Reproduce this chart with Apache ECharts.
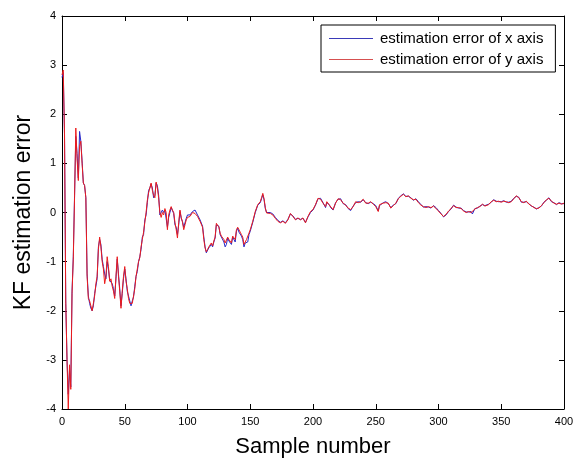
<!DOCTYPE html>
<html>
<head>
<meta charset="utf-8">
<script src="https://cdn.jsdelivr.net/npm/echarts@6/dist/echarts.min.js"></script>
<style>
html,body{margin:0;padding:0;background:#fff;}
#chart{width:581px;height:463px;}
</style>
</head>
<body>
<div id="chart"></div>
<script>
// Sample index
var samples = [0,1,2,3,4,5,6,7,8,9,10,11,12,13,14,15,16,17,18,19,20,21,22,23,24,25,26,27,28,29,30,31,32,33,34,35,36,37,38,39,40,41,42,43,44,45,46,47,48,49,50,51,52,53,54,55,56,57,58,59,60,61,62,63,64,65,66,67,68,69,70,71,72,73,74,75,76,77,78,79,80,81,82,83,84,85,86,87,88,89,90,91,92,93,94,95,96,97,98,99,100,
102,104,106,108,110,112,113,114,115,116,117,118,119,120,121,122,123,124,125,126,127,128,129,130,131,132,133,134,135,136,137,138,139,140,141,142,143,144,145,146,147,148,149,150,
152,154,156,158,159,160,161,162,163,164,166,168,170,172,174,176,178,180,182,184,186,188,190,192,194,196,198,200,202,204,206,208,210,211,213,214,216,218,220,222,224,226,228,230,232,234,236,238,240,242,244,246,248,250,252,253,256,258,260,262,264,266,268,270,272,274,276,278,280,282,284,286,288,290,292,294,296,298,300,302,304,306,308,310,312,314,316,318,320,322,324,326,327,329,331,333,335,337,338,340,342,344,346,348,350,352,354,356,358,360,362,364,366,368,370,372,374,376,378,380,382,384,386,388,390,392,394,396,398,400];

// Estimation error of x axis (blue)
var errX = [2.75,2.85,1.6,-1.85,-3.0,-3.7,-3.2,-3.55,-1.6,-0.9,0.35,1.55,1.2,0.7,1.65,1.45,1.05,0.6,0.55,0.3,-1.25,-1.7,-1.85,-1.95,-2.0,-1.9,-1.65,-1.5,-1.35,-0.7,-0.55,-0.65,-0.95,-1.1,-1.25,-1.35,-1.0,-1.15,-1.38,-1.4,-1.45,-1.55,-1.7,-1.35,-0.95,-1.25,-1.55,-1.9,-1.65,-1.35,-1.15,-1.35,-1.6,-1.7,-1.8,-1.9,-1.8,-1.72,-1.5,-1.3,-1.2,-1.0,-0.9,-0.75,-0.5,-0.45,-0.15,-0.05,0.2,0.45,0.5,0.58,0.5,0.3,0.35,0.6,0.55,0.35,-0.05,-0.08,0.05,0.0,0.05,0.02,-0.3,-0.1,0.0,0.1,0.08,-0.02,-0.25,-0.3,-0.45,-0.25,0.02,-0.12,-0.18,-0.3,-0.28,-0.12,-0.05,
-0.05,0.02,0.05,-0.05,-0.15,-0.28,-0.5,-0.7,-0.82,-0.85,-0.72,-0.75,-0.65,-0.7,-0.6,-0.52,-0.25,-0.22,-0.28,-0.45,-0.5,-0.52,-0.6,-0.7,-0.65,-0.52,-0.58,-0.55,-0.65,-0.5,-0.52,-0.6,-0.38,-0.32,-0.4,-0.42,-0.48,-0.55,-0.7,-0.62,-0.58,-0.6,-0.45,-0.38,
-0.2,0.0,0.15,0.2,0.28,0.36,0.26,0.08,0.0,0.04,0.0,-0.03,-0.1,-0.16,-0.2,-0.17,-0.21,-0.14,-0.03,-0.07,-0.14,-0.12,-0.14,-0.12,-0.2,-0.09,0.0,0.05,0.15,0.28,0.29,0.2,0.1,0.2,0.16,0.1,0.05,0.2,0.27,0.28,0.18,0.16,0.08,0.04,0.13,0.2,0.22,0.21,0.26,0.2,0.18,0.21,0.18,0.14,0.03,0.14,0.2,0.22,0.18,0.1,0.15,0.18,0.29,0.34,0.38,0.33,0.33,0.3,0.25,0.28,0.22,0.16,0.11,0.12,0.11,0.09,0.14,0.1,0.04,-0.02,-0.09,-0.05,0.02,0.07,0.15,0.11,0.09,0.09,0.04,0.01,0.01,0.02,-0.03,0.08,0.09,0.13,0.16,0.14,0.11,0.17,0.21,0.26,0.23,0.22,0.22,0.24,0.21,0.21,0.23,0.29,0.33,0.31,0.21,0.21,0.22,0.18,0.13,0.11,0.07,0.1,0.13,0.21,0.25,0.3,0.22,0.2,0.16,0.2,0.18,0.18];

// Estimation error of y axis (red)
var errY = [2.8,2.9,1.6,-1.8,-3.0,-4.0,-3.1,-3.6,-1.65,-0.95,0.3,1.72,1.1,0.65,1.35,1.45,1.0,0.6,0.55,0.3,-1.3,-1.75,-1.8,-1.9,-2.0,-1.85,-1.7,-1.45,-1.3,-0.75,-0.5,-0.7,-1.0,-1.15,-1.45,-1.3,-0.9,-1.1,-1.4,-1.35,-1.5,-1.6,-1.75,-1.3,-0.9,-1.3,-1.6,-1.95,-1.6,-1.3,-1.1,-1.4,-1.55,-1.75,-1.85,-1.88,-1.85,-1.7,-1.55,-1.3,-1.15,-1.0,-0.92,-0.7,-0.55,-0.4,-0.2,0.0,0.25,0.4,0.5,0.6,0.45,0.35,0.3,0.62,0.5,0.3,0.0,-0.1,0.0,-0.05,0.08,0.0,-0.35,-0.05,0.05,0.12,0.05,0.0,-0.2,-0.35,-0.52,-0.2,0.05,-0.1,-0.2,-0.35,-0.25,-0.15,-0.1,
-0.08,0.0,-0.02,-0.08,-0.18,-0.3,-0.55,-0.72,-0.8,-0.75,-0.7,-0.68,-0.62,-0.68,-0.58,-0.5,-0.22,-0.2,-0.3,-0.42,-0.48,-0.5,-0.55,-0.62,-0.6,-0.5,-0.55,-0.52,-0.62,-0.48,-0.5,-0.55,-0.35,-0.3,-0.35,-0.4,-0.45,-0.5,-0.65,-0.6,-0.55,-0.55,-0.42,-0.35,
-0.18,0.02,0.16,0.22,0.3,0.39,0.28,0.1,-0.01,0.02,-0.02,-0.05,-0.12,-0.18,-0.21,-0.18,-0.22,-0.15,-0.02,-0.08,-0.15,-0.11,-0.15,-0.11,-0.21,-0.08,0.02,0.06,0.16,0.29,0.27,0.19,0.12,0.22,0.15,0.12,0.06,0.19,0.28,0.26,0.19,0.15,0.09,0.06,0.12,0.22,0.2,0.22,0.27,0.19,0.19,0.22,0.17,0.12,0.02,0.16,0.19,0.2,0.19,0.09,0.14,0.19,0.28,0.33,0.37,0.32,0.34,0.29,0.26,0.27,0.2,0.15,0.12,0.1,0.12,0.1,0.13,0.08,0.03,-0.03,-0.08,-0.04,0.03,0.08,0.14,0.1,0.1,0.08,0.03,0.0,0.02,0.0,-0.04,0.07,0.1,0.12,0.17,0.13,0.1,0.16,0.22,0.25,0.22,0.23,0.21,0.23,0.22,0.2,0.22,0.28,0.34,0.3,0.22,0.2,0.23,0.17,0.14,0.1,0.08,0.09,0.14,0.2,0.26,0.29,0.23,0.19,0.17,0.19,0.17,0.19];

var xTicks = [0,50,100,150,200,250,300,350,400];
var yTicks = [-4,-3,-2,-1,0,1,2,3,4];
var seriesNames = ['estimation error of x axis','estimation error of y axis'];

var font = 'Liberation Sans, Arial, Helvetica, sans-serif';
var chart = echarts.init(document.getElementById('chart'), null, {renderer:'canvas'});

function pairs(v){ return samples.map(function(s,i){ return [s, v[i]]; }); }

var axisCommon = {
  axisLine:{show:true, onZero:false, lineStyle:{color:'#000', width:1}},
  axisTick:{show:true, inside:true, length:5, lineStyle:{color:'#000'}},
  splitLine:{show:false}
};

chart.setOption({
  animation:false,
  backgroundColor:'#fff',
  grid:{left:62, top:16, right:17, bottom:50, containLabel:false},
  legend:{
    data:seriesNames,
    orient:'vertical',
    left:321, top:25,
    padding:[6,12,5,8],
    itemGap:6,
    icon:'rect',
    itemWidth:44, itemHeight:1.2,
    borderColor:'#000', borderWidth:1, borderRadius:0,
    backgroundColor:'#fff',
    textStyle:{fontFamily:font, fontSize:15, color:'#000', padding:[0,0,0,2]}
  },
  xAxis:[
    Object.assign({}, axisCommon, {
      type:'value', min:xTicks[0], max:xTicks[xTicks.length-1], interval:50,
      position:'bottom',
      name:'Sample number', nameLocation:'middle', nameGap:27,
      nameTextStyle:{fontFamily:font, fontSize:22, color:'#000'},
      axisLabel:{fontFamily:font, fontSize:11, color:'#000', margin:7}
    }),
    Object.assign({}, axisCommon, {
      type:'value', min:xTicks[0], max:xTicks[xTicks.length-1], interval:50,
      position:'top', axisLabel:{show:false}
    })
  ],
  yAxis:[
    Object.assign({}, axisCommon, {
      type:'value', min:yTicks[0], max:yTicks[yTicks.length-1], interval:1,
      position:'left',
      name:'KF estimation error', nameLocation:'middle', nameGap:25,
      nameTextStyle:{fontFamily:font, fontSize:23, color:'#000'},
      axisLabel:{fontFamily:font, fontSize:11, color:'#000', margin:6}
    }),
    Object.assign({}, axisCommon, {
      type:'value', min:yTicks[0], max:yTicks[yTicks.length-1], interval:1,
      position:'right', axisLabel:{show:false}
    })
  ],
  series:[
    {name:seriesNames[0], type:'line', data:pairs(errX), symbol:'none', showSymbol:false,
     lineStyle:{color:'#2626c8', width:1}, itemStyle:{color:'#3a3ab8'}, z:2},
    {name:seriesNames[1], type:'line', data:pairs(errY), symbol:'none', showSymbol:false,
     lineStyle:{color:'#ec1c1c', width:1}, itemStyle:{color:'#d65050'}, z:3}
  ]
});
</script>
</body>
</html>
